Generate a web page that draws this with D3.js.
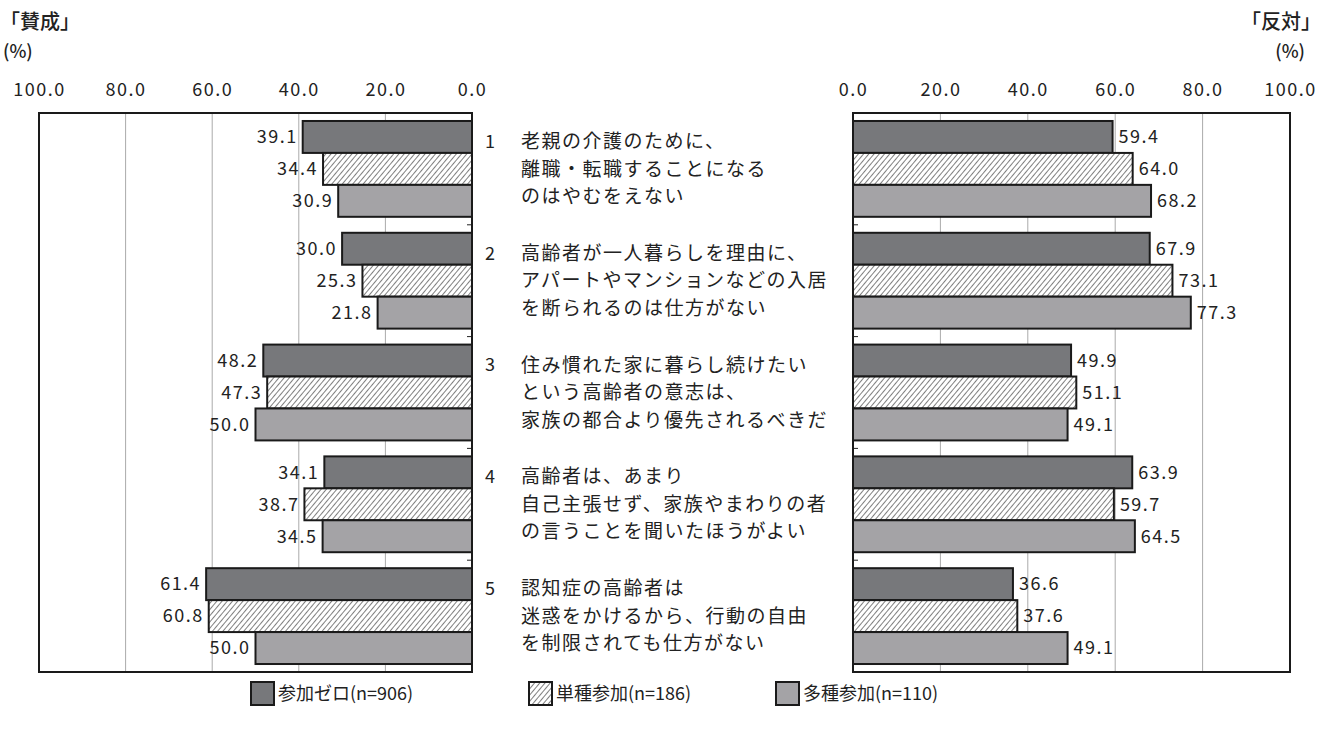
<!DOCTYPE html>
<html>
<head>
<meta charset="utf-8">
<script src="https://cdn.jsdelivr.net/npm/d3@7"></script>
<style>
  body { margin: 0; background: #fff; }
  text { font-family: "Noto Sans CJK JP", "Noto Sans", sans-serif; fill: #222; }
</style>
</head>
<body>
<div id="chart"></div>
<script>
// Data
const items = ["1", "2", "3", "4", "5"];
const itemLines = [
  ["老親の介護のために、", "離職・転職することになる", "のはやむをえない"],
  ["高齢者が一人暮らしを理由に、", "アパートやマンションなどの入居", "を断られるのは仕方がない"],
  ["住み慣れた家に暮らし続けたい", "という高齢者の意志は、", "家族の都合より優先されるべきだ"],
  ["高齢者は、あまり", "自己主張せず、家族やまわりの者", "の言うことを聞いたほうがよい"],
  ["認知症の高齢者は", "迷惑をかけるから、行動の自由", "を制限されても仕方がない"]
];
const groups = ["参加ゼロ(n=906)", "単種参加(n=186)", "多種参加(n=110)"];
const agree = [
  [39.1, 34.4, 30.9],
  [30.0, 25.3, 21.8],
  [48.2, 47.3, 50.0],
  [34.1, 38.7, 34.5],
  [61.4, 60.8, 50.0]
];
const disagree = [
  [59.4, 64.0, 68.2],
  [67.9, 73.1, 77.3],
  [49.9, 51.1, 49.1],
  [63.9, 59.7, 64.5],
  [36.6, 37.6, 49.1]
];
const xTicks = [0, 20, 40, 60, 80, 100];

const W = 1331, H = 740;
const plotTop = 113, plotBottom = 672;

const svg = d3.select("#chart").append("svg")
  .attr("width", W).attr("height", H);

// hatch pattern for the middle group
const defs = svg.append("defs");
const pat = defs.append("pattern")
  .attr("id", "hatch")
  .attr("patternUnits", "userSpaceOnUse")
  .attr("width", 4).attr("height", 4)
  .attr("patternTransform", "rotate(40)");
pat.append("rect").attr("width", 4).attr("height", 4).attr("fill", "#fff");
pat.append("line").attr("x1", 0).attr("y1", 0).attr("x2", 0).attr("y2", 4)
  .attr("stroke", "#555").attr("stroke-width", 1.5);

const fills = ["#77787b", "url(#hatch)", "#a4a3a6"];

// scales
const y = d3.scaleBand().domain(items).range([plotTop, plotBottom]);
const yInner = d3.scaleBand().domain(d3.range(3))
  .range([0, y.bandwidth()]).paddingInner(0).paddingOuter(0.25);
const xL = d3.scaleLinear().domain([0, 100]).range([472, 39]);
const xR = d3.scaleLinear().domain([0, 100]).range([853, 1290]);

function panel(x, data, side) {
  const g = svg.append("g");
  const x0 = x(0), x100 = x(100);

  // gridlines
  g.selectAll(".grid")
    .data(xTicks.slice(1, -1))
    .join("line")
    .attr("x1", d => x(d)).attr("x2", d => x(d))
    .attr("y1", plotTop).attr("y2", plotBottom)
    .attr("stroke", "#aaa").attr("stroke-width", 1);

  // tick labels on top
  g.append("g")
    .attr("transform", `translate(0, ${plotTop})`)
    .call(d3.axisTop(x).tickValues(xTicks).tickFormat(d3.format(".1f")).tickSize(0).tickPadding(17))
    .call(a => a.select(".domain").remove())
    .selectAll("text")
    .style("font-size", "18px")
    .style("letter-spacing", "1.5px")
    .attr("fill", "#222");

  // bars
  items.forEach((it, i) => {
    const gy = y(it);
    g.selectAll(null)
      .data(data[i])
      .join("rect")
      .attr("x", d => Math.min(x(d), x0))
      .attr("y", (d, j) => gy + yInner(j))
      .attr("width", d => Math.abs(x(d) - x0))
      .attr("height", yInner.bandwidth())
      .attr("fill", (d, j) => fills[j])
      .attr("stroke", "#1a1a1a")
      .attr("stroke-width", 2);

    g.selectAll(null)
      .data(data[i])
      .join("text")
      .attr("x", d => side === "left" ? x(d) - 5 : x(d) + 6)
      .attr("y", (d, j) => gy + yInner(j) + yInner.bandwidth() / 2)
      .attr("dy", "0.35em")
      .attr("text-anchor", side === "left" ? "end" : "start")
      .style("font-size", "18px")
      .style("letter-spacing", "1.5px")
      .text(d => d3.format(".1f")(d));
  });

  // small ticks at group boundaries on the zero axis
  const dir = side === "left" ? -5 : 5;
  g.selectAll(".btick")
    .data(items.slice(1))
    .join("line")
    .attr("x1", x0).attr("x2", x0 + dir)
    .attr("y1", d => y(d)).attr("y2", d => y(d))
    .attr("stroke", "#222").attr("stroke-width", 1);

  // frame
  g.append("rect")
    .attr("x", Math.min(x0, x100)).attr("y", plotTop)
    .attr("width", Math.abs(x100 - x0)).attr("height", plotBottom - plotTop)
    .attr("fill", "none").attr("stroke", "#1a1a1a").attr("stroke-width", 2);
}

panel(xL, agree, "left");
panel(xR, disagree, "right");

// category labels in the middle
items.forEach((it, i) => {
  const cy = y(it) + y.bandwidth() / 2;
  svg.append("text")
    .attr("x", 485).attr("y", cy - 27.5).attr("dy", "0.35em")
    .style("font-size", "18px").text(it);
  itemLines[i].forEach((ln, k) => {
    svg.append("text")
      .attr("x", 521).attr("y", cy + (k - 1) * 27.5).attr("dy", "0.35em")
      .style("font-size", "19px")
      .style("letter-spacing", "1.5px")
      .text(ln);
  });
});

// headers
svg.append("text").attr("x", 0).attr("y", 22).attr("dy", "0.35em")
  .style("font-size", "20px").style("font-weight", "500").text("「賛成」");
svg.append("text").attr("x", 3).attr("y", 52).attr("dy", "0.35em")
  .style("font-size", "18px").style("font-weight", "500").text("(%)");
svg.append("text").attr("x", 1321).attr("y", 22).attr("dy", "0.35em")
  .attr("text-anchor", "end")
  .style("font-size", "20px").style("font-weight", "500").text("「反対」");
svg.append("text").attr("x", 1305).attr("y", 52).attr("dy", "0.35em")
  .attr("text-anchor", "end")
  .style("font-size", "18px").style("font-weight", "500").text("(%)");

// legend
const legX = [251, 529, 776];
const leg = svg.append("g");
groups.forEach((name, j) => {
  leg.append("rect")
    .attr("x", legX[j]).attr("y", 682)
    .attr("width", 23).attr("height", 23)
    .attr("fill", fills[j]).attr("stroke", "#1a1a1a").attr("stroke-width", 2);
  leg.append("text")
    .attr("x", legX[j] + 27).attr("y", 694).attr("dy", "0.35em")
    .style("font-size", "18px").text(name);
});
</script>
</body>
</html>
